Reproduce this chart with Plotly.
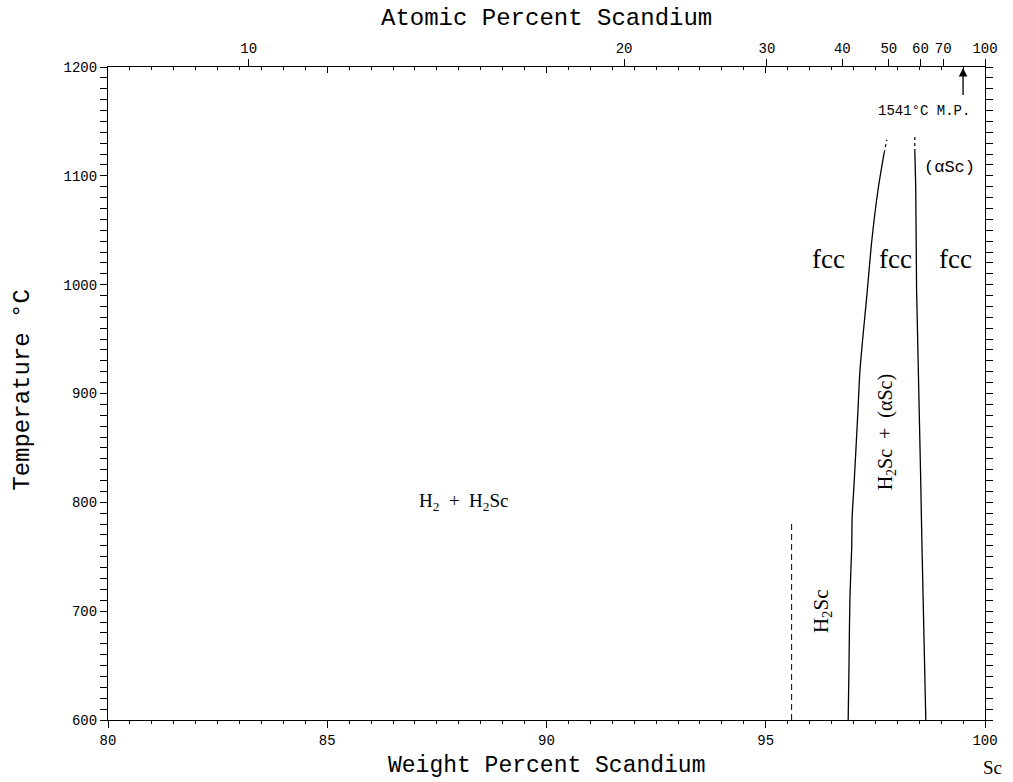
import plotly.graph_objects as go

# --- data ---
left_wt = [96.88, 96.90, 96.92, 96.96, 96.97, 97.01, 97.10, 97.15, 97.31, 97.42, 97.56, 97.70]
left_T = [600, 655, 713, 758, 786, 814, 882, 922, 992, 1041, 1087, 1121]
left_tip_wt = [97.70, 97.76]
left_tip_T = [1121, 1133]

right_wt = [98.65, 98.63, 98.59, 98.56, 98.53, 98.49, 98.46, 98.44, 98.42, 98.40]
right_T = [600, 632, 698, 765, 828, 894, 961, 995, 1090, 1122]
right_tip_wt = [98.40, 98.40]
right_tip_T = [1122, 1137]

dash_wt = [95.59, 95.59]
dash_T = [600, 782]

at_ticks = [10, 20, 30, 40, 50, 60, 70, 100]
M_SC, M_H = 44.956, 1.008


def at_to_wt(a):
    return 100 * a * M_SC / (a * M_SC + (100 - a) * M_H)


at_tick_pos = [at_to_wt(a) for a in at_ticks]

MONO = "Liberation Mono"
SERIF = "Liberation Serif"

fig = go.Figure()
line = dict(color="black", width=1.3)
fig.add_trace(go.Scatter(x=left_wt, y=left_T, mode="lines",
                         line=dict(color="black", width=1.3, shape="spline", smoothing=0.8),
                         showlegend=False))
fig.add_trace(go.Scatter(x=left_tip_wt, y=left_tip_T, mode="lines",
                         line=dict(color="black", width=1.2, dash="dot"), showlegend=False))
fig.add_trace(go.Scatter(x=right_wt, y=right_T, mode="lines", line=line, showlegend=False))
fig.add_trace(go.Scatter(x=right_tip_wt, y=right_tip_T, mode="lines",
                         line=dict(color="black", width=1.2, dash="dot"), showlegend=False))
fig.add_trace(go.Scatter(x=dash_wt, y=dash_T, mode="lines",
                         line=dict(color="black", width=1, dash="6px,4px"), showlegend=False))
# invisible traces to activate the top axes
fig.add_trace(go.Scatter(x=[80, 100], y=[600, 600], xaxis="x2", mode="lines",
                         line=dict(width=0), showlegend=False, hoverinfo="skip"))
fig.add_trace(go.Scatter(x=[80, 100], y=[600, 600], xaxis="x3", mode="lines",
                         line=dict(width=0), showlegend=False, hoverinfo="skip"))

tickfont = dict(family=MONO, size=14, color="black")

fig.update_layout(
    width=1013, height=782,
    margin=dict(l=108, r=28, t=67, b=62),
    plot_bgcolor="white", paper_bgcolor="white",
    xaxis=dict(range=[80, 100], tickmode="array", tickvals=[80, 85, 90, 95, 100],
               ticks="outside", ticklen=7, tickwidth=1, tickcolor="black",
               minor=dict(dtick=0.5, ticks="outside", ticklen=3, tickcolor="black"),
               showline=True, linecolor="black", linewidth=1.2, showgrid=False,
               zeroline=False, tickfont=tickfont),
    xaxis2=dict(range=[80, 100], overlaying="x", side="top", tickmode="array",
                tickvals=at_tick_pos, ticktext=[str(a) for a in at_ticks],
                ticks="outside", ticklen=7, tickwidth=1, tickcolor="black",
                showline=True, linecolor="black", linewidth=1.2, showgrid=False,
                zeroline=False, tickfont=tickfont),
    xaxis3=dict(range=[80, 100], overlaying="x", side="top", tickmode="array",
                tickvals=[80, 85, 90, 95, 100], ticks="inside", ticklen=6,
                tickcolor="black", showticklabels=False,
                minor=dict(dtick=0.5, ticks="inside", ticklen=3, tickcolor="black"),
                showline=False, showgrid=False, zeroline=False),
    yaxis=dict(range=[600, 1200], tickmode="array",
               tickvals=[600, 700, 800, 900, 1000, 1100, 1200],
               ticks="outside", ticklen=7, tickwidth=1, tickcolor="black",
               minor=dict(dtick=10, ticks="outside", ticklen=3, tickcolor="black"),
               showline=True, linecolor="black", linewidth=1.2, mirror="allticks",
               showgrid=False, zeroline=False, tickfont=tickfont),
)

annotations = [
    dict(text="Atomic Percent Scandium", x=0.5, y=1, xref="paper", yref="paper",
         yanchor="bottom", yshift=33, showarrow=False,
         font=dict(family=MONO, size=24, color="black")),
    dict(text="Weight Percent Scandium", x=0.5, y=0, xref="paper", yref="paper",
         yanchor="top", yshift=-31, showarrow=False,
         font=dict(family=MONO, size=23, color="black")),
    dict(text="Temperature °C", x=0, y=0.505, xref="paper", yref="paper",
         xanchor="right", xshift=-70, textangle=-90, showarrow=False,
         font=dict(family=MONO, size=24, color="black")),
    dict(text="Sc", x=1, y=0, xref="paper", yref="paper", xanchor="left", yanchor="top",
         xshift=-4, yshift=-35, showarrow=False,
         font=dict(family=SERIF, size=19, color="black")),
    dict(text="H<sub>2</sub>  +  H<sub>2</sub>Sc", x=88.1, y=800, showarrow=False,
         font=dict(family=SERIF, size=19, color="black")),
    dict(text="H<sub>2</sub>Sc", x=96.28, y=700, textangle=-90, showarrow=False,
         font=dict(family=SERIF, size=21, color="black")),
    dict(text="H<sub>2</sub>Sc  +  (αSc)", x=97.76, y=865, textangle=-90, showarrow=False,
         font=dict(family=SERIF, size=20, color="black")),
    dict(text="fcc", x=96.44, y=1024, showarrow=False, font=dict(family=SERIF, size=27, color="black")),
    dict(text="fcc", x=97.97, y=1024, showarrow=False, font=dict(family=SERIF, size=27, color="black")),
    dict(text="fcc", x=99.32, y=1024, showarrow=False, font=dict(family=SERIF, size=27, color="black")),
    dict(text="(αSc)", x=99.20, y=1108, showarrow=False, font=dict(family=MONO, size=17, color="black")),
    dict(text="1541°C M.P.", x=98.62, y=1160, showarrow=False, font=dict(family=MONO, size=14, color="black")),
    dict(x=99.50, y=1199, ax=99.50, ay=1173, xref="x", yref="y", axref="x", ayref="y",
         text="", showarrow=True, arrowhead=2, arrowsize=1.3, arrowwidth=1.3, arrowcolor="black"),
]
fig.update_layout(annotations=annotations)

fig.write_html("out.html")
